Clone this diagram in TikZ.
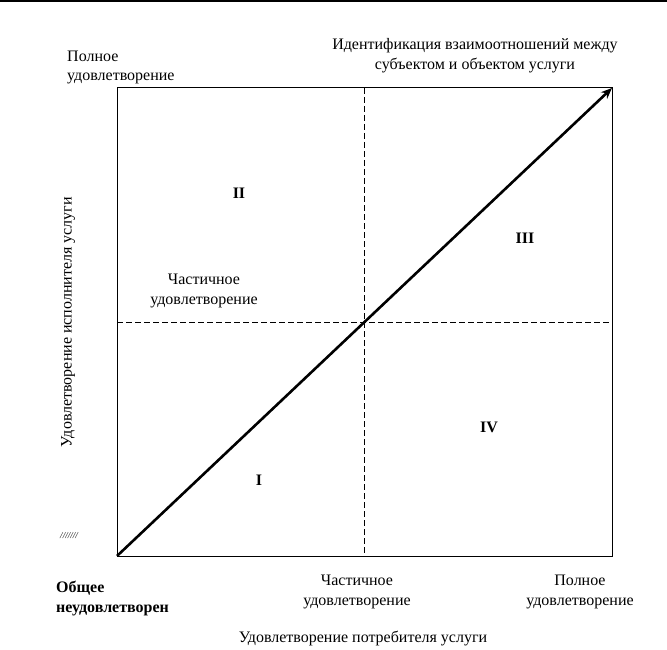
\documentclass[tikz,border=0pt]{standalone}
\usepackage{fontspec}
\setmainfont{Liberation Serif}
\usetikzlibrary{arrows.meta}
\begin{document}
\begin{tikzpicture}[x=1pt,y=-1pt,
  lbl/.style={font=\fontsize{16}{19.5}\selectfont, inner sep=0pt, align=center},
  roman/.style={font=\fontsize{16}{18}\selectfont\bfseries, inner sep=0pt},
  dashline/.style={dash pattern=on 6pt off 3pt, line width=0.8pt}]
\useasboundingbox (0,0) rectangle (667,650);
\draw[line width=2pt] (0,1) -- (667,1);
\coordinate (bl) at (117,556);
\coordinate (tr) at (612,88);
\coordinate (vt) at (364,88);
\coordinate (vb) at (364,556);
\coordinate (hl) at (117,322);
\coordinate (hr) at (612,322);
\draw[line width=1pt] (bl) rectangle (tr);
\draw[dashline] (vt) -- (vb);
\draw[dashline] (hl) -- (hr);
\draw[line width=2.6pt, -{Stealth[length=11pt,width=9pt]}] (bl) -- (tr);
\node[lbl, align=left, anchor=west] (tl) at (67,67.5) {Полное\\удовлетворение};
\node[lbl] (title) at (475,55.5) {Идентификация взаимоотношений между\\субъектом и объектом услуги};
\node[roman] (q2) at (239,193) {II};
\node[roman] (q3) at (525,238) {III};
\node[roman] (q4) at (489,427) {IV};
\node[roman] (q1) at (259,480) {I};
\node[lbl] (mid) at (204,291) {Частичное\\удовлетворение};
\node[font=\fontsize{9}{9}\selectfont\itshape, inner sep=0pt] (hatch) at (69,536) {///////};
\node[lbl, align=left, anchor=west, font=\fontsize{16}{20}\selectfont\bfseries] (zero) at (56,598) {Общее\\неудовлетворен};
\node[lbl] (xmid) at (357,592) {Частичное\\удовлетворение};
\node[lbl] (xfull) at (580,592) {Полное\\удовлетворение};
\node[lbl] (xaxis) at (363,638) {Удовлетворение потребителя услуги};
\node[lbl, rotate=90] (yaxis) at (68,322) {Удовлетворение исполнителя услуги};
\end{tikzpicture}
\end{document}
